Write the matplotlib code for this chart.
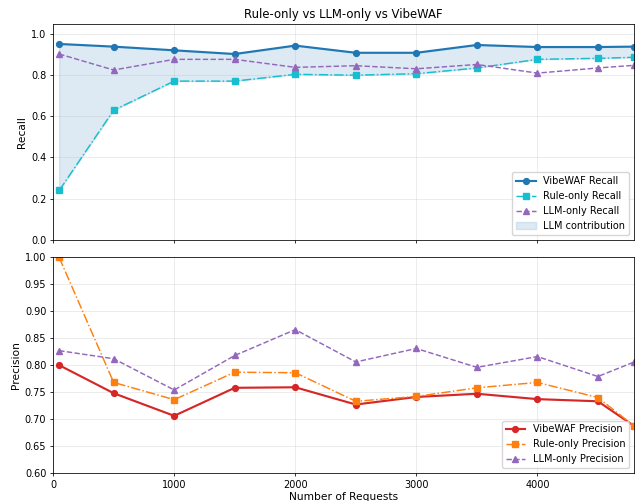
import matplotlib
matplotlib.use("Agg")
import matplotlib.pyplot as plt

requests = [50, 500, 1000, 1500, 2000, 2500, 3000, 3500, 4000, 4500, 4800]

vibe_recall = [0.953, 0.940, 0.922, 0.904, 0.945, 0.910, 0.910, 0.948, 0.938, 0.938, 0.940]
rule_recall = [0.239, 0.630, 0.772, 0.772, 0.805, 0.801, 0.808, 0.836, 0.878, 0.883, 0.888]
llm_recall = [0.904, 0.826, 0.878, 0.878, 0.839, 0.847, 0.832, 0.853, 0.811, 0.836, 0.849]

vibe_prec = [0.800, 0.748, 0.706, 0.758, 0.759, 0.727, 0.741, 0.747, 0.737, 0.733, 0.687]
rule_prec = [1.000, 0.768, 0.736, 0.787, 0.786, 0.733, 0.742, 0.758, 0.768, 0.740, 0.687]
llm_prec = [0.827, 0.812, 0.754, 0.818, 0.866, 0.806, 0.831, 0.796, 0.816, 0.779, 0.806]

s = 0.7
plt.rcParams.update({
    'font.size': 10 * s,
    'axes.linewidth': 0.8 * s,
    'xtick.major.width': 0.8 * s,
    'ytick.major.width': 0.8 * s,
    'xtick.major.size': 3.5 * s,
    'ytick.major.size': 3.5 * s,
    'xtick.major.pad': 3.5 * s,
    'ytick.major.pad': 3.5 * s,
    'axes.titlepad': 6 * s,
    'grid.linewidth': 0.8 * s,
})

fig, (ax1, ax2) = plt.subplots(2, 1, figsize=(6.4, 5.01), dpi=100, sharex=True)

ms = 6 * s
lab = 11 * s
ax1.plot(requests, vibe_recall, '-o', color='tab:blue', lw=2 * s * 1.1, ms=ms, label='VibeWAF Recall')
ax1.plot(requests, rule_recall, '-.s', color='tab:cyan', lw=1.5 * s, ms=ms, label='Rule-only Recall')
ax1.plot(requests, llm_recall, '--^', color='tab:purple', lw=1.5 * s, ms=ms, label='LLM-only Recall')
ax1.fill_between(requests, rule_recall, vibe_recall, color='tab:blue', alpha=0.15, label='LLM contribution')
ax1.set_ylim(0, 1.05)
ax1.set_ylabel('Recall', fontsize=lab, labelpad=2.5)
ax1.set_title('Rule-only vs LLM-only vs VibeWAF', fontsize=12 * s)
ax1.grid(True, alpha=0.3)
ax1.legend(loc='lower right', fontsize=10 * s)

ax2.plot(requests, vibe_prec, '-o', color='tab:red', lw=2 * s * 1.1, ms=ms, label='VibeWAF Precision')
ax2.plot(requests, rule_prec, '-.s', color='tab:orange', lw=1.5 * s, ms=ms, label='Rule-only Precision')
ax2.plot(requests, llm_prec, '--^', color='tab:purple', lw=1.5 * s, ms=ms, label='LLM-only Precision')
ax2.set_ylim(0.6, 1.0)
ax2.set_xlim(0, 4800)
ax2.set_ylabel('Precision', fontsize=lab, labelpad=2.5)
ax2.set_xlabel('Number of Requests', fontsize=lab, labelpad=1.5)
ax2.grid(True, alpha=0.3)
ax2.legend(loc='lower right', fontsize=10 * s)

fig.subplots_adjust(left=0.083, right=0.991, top=0.952, bottom=0.056, hspace=0.083)
fig.savefig('out.png', dpi=100)
